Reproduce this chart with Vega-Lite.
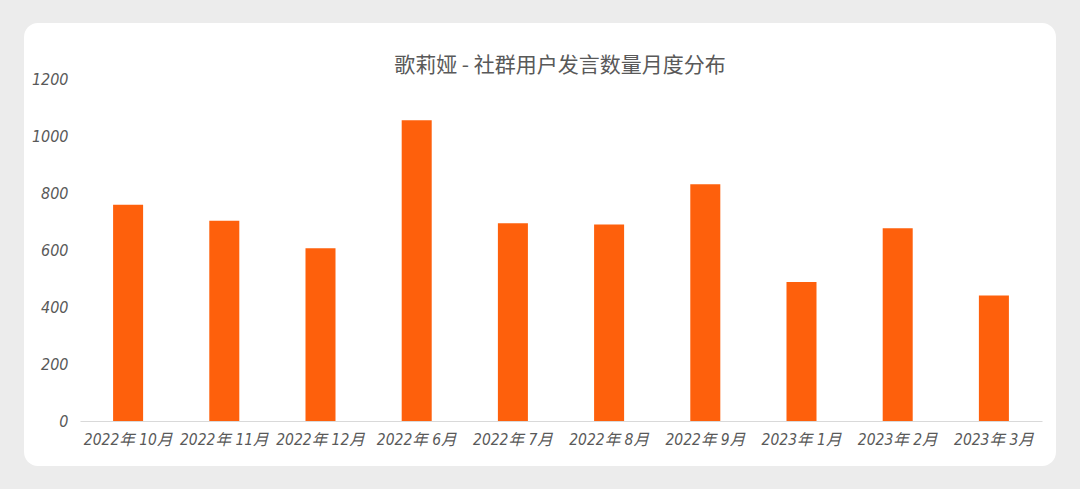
{
  "$schema": "https://vega.github.io/schema/vega-lite/v6.json",
  "autosize": {"type": "none"},
  "width": 1032,
  "height": 443,
  "padding": {"left": 24, "top": 23, "right": 24, "bottom": 23},
  "background": "#ececec",
  "config": {
    "view": {"fill": "#ffffff", "cornerRadius": 14, "stroke": null}
  },
  "title": {
    "text": "歌莉娅 - 社群用户发言数量月度分布",
    "font": "Noto Sans CJK SC",
    "fontSize": 21,
    "fontWeight": 400,
    "color": "#595959",
    "anchor": "middle",
    "frame": "group",
    "orient": "top",
    "offset": 0,
    "baseline": "middle",
    "dy": 64,
    "dx": 20
  },
  "data": {
    "values": [
      {"month": "2022年 10月", "count": 761},
      {"month": "2022年 11月", "count": 705},
      {"month": "2022年 12月", "count": 608},
      {"month": "2022年 6月", "count": 1058},
      {"month": "2022年 7月", "count": 696},
      {"month": "2022年 8月", "count": 691},
      {"month": "2022年 9月", "count": 833},
      {"month": "2023年 1月", "count": 489},
      {"month": "2023年 2月", "count": 678},
      {"month": "2023年 3月", "count": 442}
    ]
  },
  "mark": {"type": "bar", "color": "#FE600C"},
  "encoding": {
    "x": {
      "field": "month",
      "type": "nominal",
      "sort": null,
      "scale": {"range": [56, 1018], "paddingInner": 0.688, "paddingOuter": 0.344},
      "axis": {
        "title": null,
        "orient": "bottom",
        "offset": -45,
        "labelAngle": 0,
        "ticks": false,
        "domain": true,
        "domainColor": "#d9d9d9",
        "domainWidth": 1,
        "labelPadding": 11,
        "labelFont": "DejaVu Sans Condensed, Noto Sans CJK SC",
        "labelFontStyle": "italic",
        "labelFontSize": 15.5,
        "labelColor": "#595959"
      }
    },
    "y": {
      "field": "count",
      "type": "quantitative",
      "scale": {"domain": [-158.3, 1400.4], "nice": false, "zero": false},
      "axis": {
        "title": null,
        "values": [0, 200, 400, 600, 800, 1000, 1200],
        "format": "d",
        "offset": -44,
        "ticks": false,
        "domain": false,
        "grid": false,
        "labelPadding": 0,
        "labelFont": "DejaVu Sans Condensed, Noto Sans",
        "labelFontStyle": "italic",
        "labelFontSize": 16,
        "labelColor": "#595959",
        "labelAlign": "right",
        "labelBaseline": "middle"
      }
    },
    "y2": {"datum": 0}
  }
}
